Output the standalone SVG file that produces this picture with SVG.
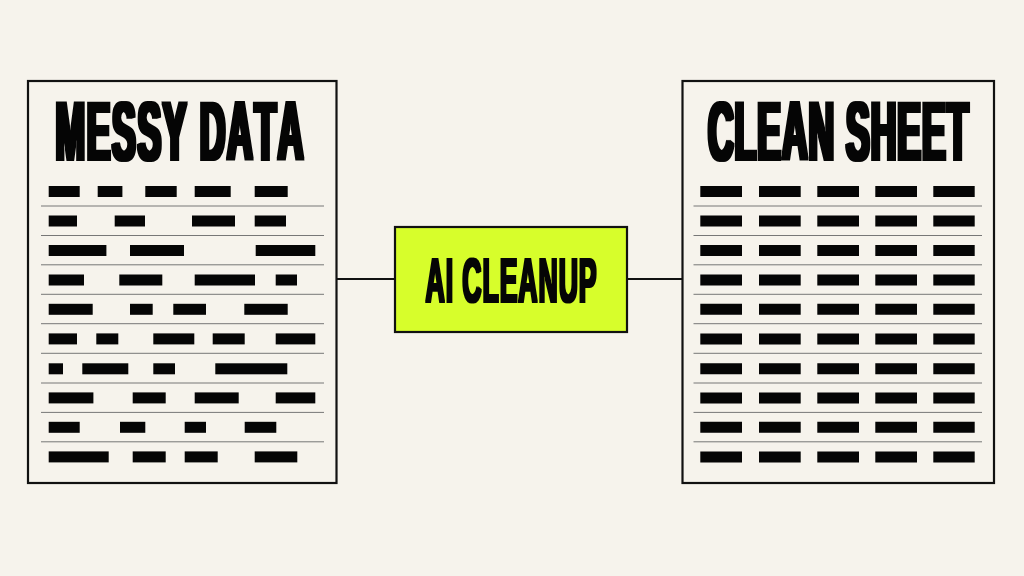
<svg xmlns="http://www.w3.org/2000/svg" width="1024" height="576" viewBox="0 0 1024 576">
<defs>
<filter id="heavy" x="-5%" y="-10%" width="110%" height="120%" color-interpolation-filters="sRGB">
<feMorphology operator="dilate" radius="2 1"/>
</filter>
<filter id="heavy-small" x="-5%" y="-10%" width="110%" height="120%" color-interpolation-filters="sRGB">
<feMorphology operator="dilate" radius="1.4 0.8"/>
</filter>
</defs>
<style>
.frame{fill:none;stroke:#111;stroke-width:2.200}
.sep{stroke:#777;stroke-width:1}
.bar{fill:#050505}
.title{font-family:"Liberation Sans",Arial,sans-serif;font-weight:700;fill:#050505;font-kerning:none}
.conn{stroke:#111;stroke-width:2.200;fill:none}
</style>
<rect width="1024" height="576" fill="#f6f3ec"/>
<g id="connectors">
<line class="conn" x1="336" y1="279" x2="395" y2="279"/>
<line class="conn" x1="627" y1="279" x2="683" y2="279"/>
</g>
<g id="messy-data">
<rect class="frame" x="28" y="81" width="308.500" height="402"/>
<g filter="url(#heavy)"><text class="title" transform="translate(55.500 160) scale(0.4226 1)" font-size="84" letter-spacing="4">MESSY DATA</text></g>
<g class="sep">
<line x1="41" x2="324" y1="206" y2="206"/><line x1="41" x2="324" y1="235.500" y2="235.500"/><line x1="41" x2="324" y1="264.800" y2="264.800"/><line x1="41" x2="324" y1="294.300" y2="294.300"/><line x1="41" x2="324" y1="323.700" y2="323.700"/><line x1="41" x2="324" y1="353.300" y2="353.300"/><line x1="41" x2="324" y1="383" y2="383"/><line x1="41" x2="324" y1="412.400" y2="412.400"/><line x1="41" x2="324" y1="441.800" y2="441.800"/>
</g>
<g class="bar">
<rect x="48.700" y="186" width="31" height="11"/><rect x="97.700" y="186" width="24.700" height="11"/><rect x="145.300" y="186" width="31.400" height="11"/><rect x="194.700" y="186" width="36" height="11"/><rect x="254.700" y="186" width="33" height="11"/>
<rect x="48.700" y="215.500" width="28.300" height="11"/><rect x="114.700" y="215.500" width="30.300" height="11"/><rect x="192" y="215.500" width="43" height="11"/><rect x="254.700" y="215.500" width="31.300" height="11"/>
<rect x="48.700" y="245" width="57.700" height="11"/><rect x="130" y="245" width="54" height="11"/><rect x="255.700" y="245" width="59.600" height="11"/>
<rect x="48.700" y="274.500" width="35.300" height="11"/><rect x="119.300" y="274.500" width="43" height="11"/><rect x="194.700" y="274.500" width="60.300" height="11"/><rect x="275.700" y="274.500" width="21.300" height="11"/>
<rect x="48.700" y="303.800" width="44" height="11"/><rect x="130" y="303.800" width="22.700" height="11"/><rect x="173.300" y="303.800" width="32.700" height="11"/><rect x="244.300" y="303.800" width="43.400" height="11"/>
<rect x="48.700" y="333.400" width="28.300" height="11"/><rect x="96.300" y="333.400" width="22" height="11"/><rect x="153.300" y="333.400" width="41" height="11"/><rect x="212.700" y="333.400" width="32" height="11"/><rect x="275.700" y="333.400" width="39.600" height="11"/>
<rect x="48.700" y="363.300" width="14.300" height="11"/><rect x="82.300" y="363.300" width="46" height="11"/><rect x="153.300" y="363.300" width="21.700" height="11"/><rect x="215.300" y="363.300" width="72" height="11"/>
<rect x="48.700" y="392.400" width="44.700" height="11"/><rect x="132.700" y="392.400" width="33" height="11"/><rect x="194.700" y="392.400" width="44" height="11"/><rect x="275.700" y="392.400" width="39.600" height="11"/>
<rect x="48.700" y="421.800" width="31" height="11"/><rect x="120" y="421.800" width="25.300" height="11"/><rect x="184.700" y="421.800" width="21.300" height="11"/><rect x="244.700" y="421.800" width="31.600" height="11"/>
<rect x="48.700" y="451.400" width="60" height="11"/><rect x="132.700" y="451.400" width="33" height="11"/><rect x="184.700" y="451.400" width="33" height="11"/><rect x="254.700" y="451.400" width="42.600" height="11"/>
</g>
</g>
<g id="ai-cleanup">
<rect x="395" y="227" width="232" height="105" fill="#d7fe2b" stroke="#111" stroke-width="2.200"/>
<g filter="url(#heavy-small)"><text class="title" transform="translate(425.500 301.700) scale(0.4226 1)" font-size="63" letter-spacing="2.200">AI CLEANUP</text></g>
</g>
<g id="clean-sheet">
<rect class="frame" x="682.500" y="81" width="311.500" height="402"/>
<g filter="url(#heavy)"><text class="title" transform="translate(708 160) scale(0.4226 1)" font-size="84" letter-spacing="2.350">CLEAN SHEET</text></g>
<g class="sep">
<line x1="693.500" x2="982" y1="206" y2="206"/><line x1="693.500" x2="982" y1="235.500" y2="235.500"/><line x1="693.500" x2="982" y1="264.800" y2="264.800"/><line x1="693.500" x2="982" y1="294.300" y2="294.300"/><line x1="693.500" x2="982" y1="323.700" y2="323.700"/><line x1="693.500" x2="982" y1="353.300" y2="353.300"/><line x1="693.500" x2="982" y1="383" y2="383"/><line x1="693.500" x2="982" y1="412.400" y2="412.400"/><line x1="693.500" x2="982" y1="441.800" y2="441.800"/>
</g>
<g class="bar">
<path d="M700.300 186h41.700v11h-41.700zM759 186h41.700v11h-41.700zM817.300 186h41.700v11h-41.700zM875.300 186h41.700v11h-41.700zM933.300 186h41.400v11h-41.400z"/>
<path d="M700.300 215.500h41.700v11h-41.700zM759 215.500h41.700v11h-41.700zM817.300 215.500h41.700v11h-41.700zM875.300 215.500h41.700v11h-41.700zM933.300 215.500h41.400v11h-41.400z"/>
<path d="M700.300 245h41.700v11h-41.700zM759 245h41.700v11h-41.700zM817.300 245h41.700v11h-41.700zM875.300 245h41.700v11h-41.700zM933.300 245h41.400v11h-41.400z"/>
<path d="M700.300 274.500h41.700v11h-41.700zM759 274.500h41.700v11h-41.700zM817.300 274.500h41.700v11h-41.700zM875.300 274.500h41.700v11h-41.700zM933.300 274.500h41.400v11h-41.400z"/>
<path d="M700.300 303.800h41.700v11h-41.700zM759 303.800h41.700v11h-41.700zM817.300 303.800h41.700v11h-41.700zM875.300 303.800h41.700v11h-41.700zM933.300 303.800h41.400v11h-41.400z"/>
<path d="M700.300 333.400h41.700v11h-41.700zM759 333.400h41.700v11h-41.700zM817.300 333.400h41.700v11h-41.700zM875.300 333.400h41.700v11h-41.700zM933.300 333.400h41.400v11h-41.400z"/>
<path d="M700.300 363.300h41.700v11h-41.700zM759 363.300h41.700v11h-41.700zM817.300 363.300h41.700v11h-41.700zM875.300 363.300h41.700v11h-41.700zM933.300 363.300h41.400v11h-41.400z"/>
<path d="M700.300 392.400h41.700v11h-41.700zM759 392.400h41.700v11h-41.700zM817.300 392.400h41.700v11h-41.700zM875.300 392.400h41.700v11h-41.700zM933.300 392.400h41.400v11h-41.400z"/>
<path d="M700.300 421.800h41.700v11h-41.700zM759 421.800h41.700v11h-41.700zM817.300 421.800h41.700v11h-41.700zM875.300 421.800h41.700v11h-41.700zM933.300 421.800h41.400v11h-41.400z"/>
<path d="M700.300 451.400h41.700v11h-41.700zM759 451.400h41.700v11h-41.700zM817.300 451.400h41.700v11h-41.700zM875.300 451.400h41.700v11h-41.700zM933.300 451.400h41.400v11h-41.400z"/>
</g>
</g>
</svg>
